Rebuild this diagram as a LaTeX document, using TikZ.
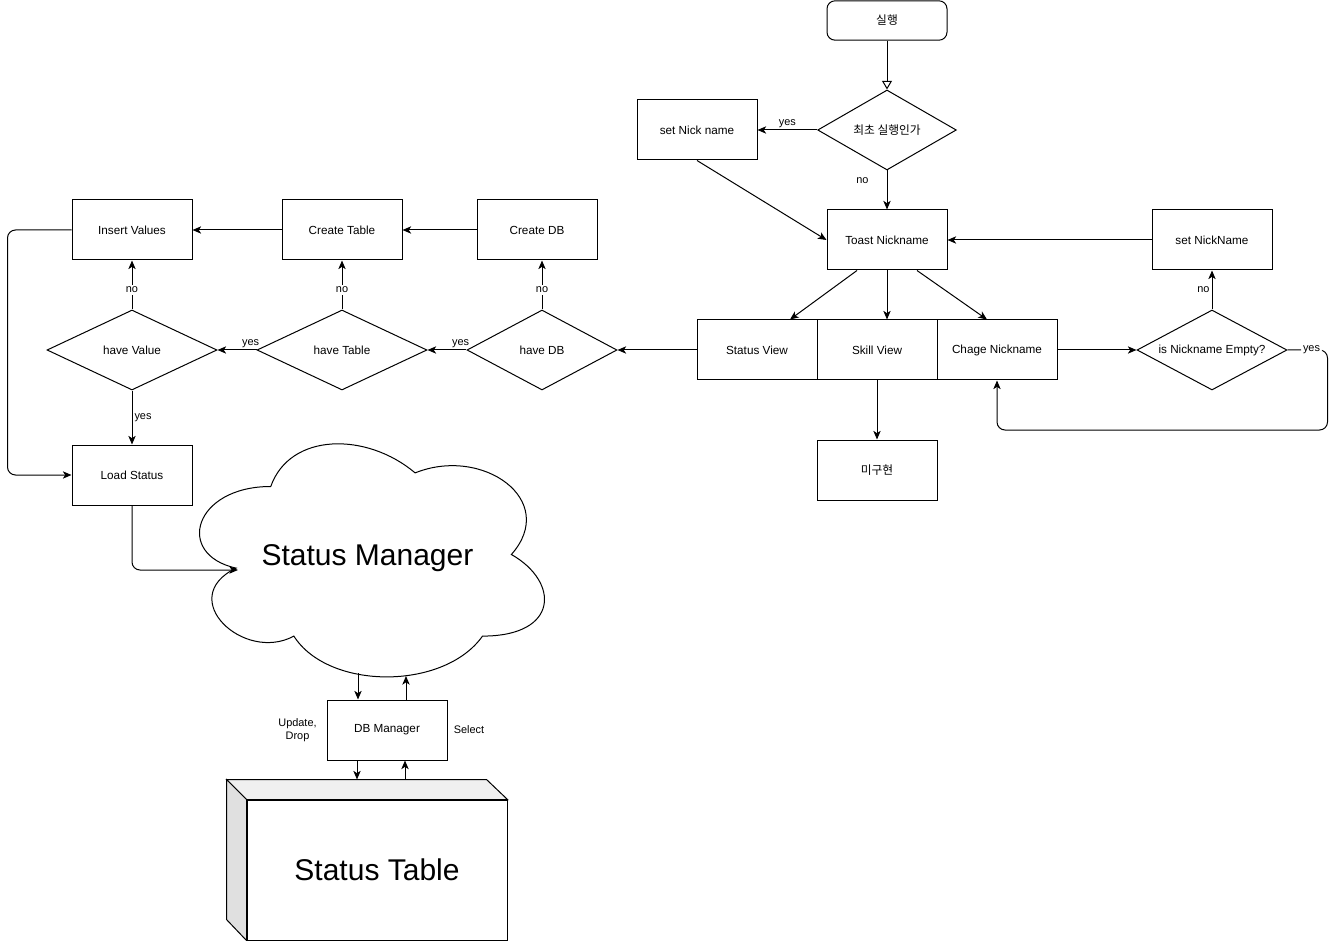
\documentclass[tikz,border=0pt]{standalone}
\usepackage{fontspec}
\setmainfont{Liberation Sans}
\newfontfamily\kr{Noto Sans CJK KR}
\usetikzlibrary{arrows.meta,shapes.geometric,calc}

\begin{document}
\begin{tikzpicture}[x=0.75pt,y=-0.75pt,line width=0.75pt,
    font=\fontsize{8.8}{10.5}\selectfont,
    box/.style={draw,minimum width=90pt,minimum height=45pt,inner sep=1pt},
    dec/.style={draw,diamond,aspect=1.9,minimum width=127.5pt,minimum height=60pt,inner sep=1pt},
    arr/.style={-{Stealth[length=6.5pt,width=5.5pt,inset=1.8pt]}},
    lbl/.style={font=\fontsize{8.2}{9.5}\selectfont,inner sep=1.5pt}]
    \useasboundingbox (0,0) rectangle (1336,941);

    % right part
    \node[box,rounded corners=6pt,minimum height=29.5pt] (run) at (887,20.5) {\kr 실행};
    \node[dec,aspect=1.75,minimum width=104pt] (first) at (887,130) {\kr 최초 실행인가};
    \node[box] (nick1) at (697,130) {set Nick name};
    \node[box] (toast) at (887,240) {Toast Nickname};
    \node[box] (setnick) at (1212,240) {set NickName};
    \node[box] (status) at (757,350) {Status View};
    \node[box] (skill) at (877,350) {Skill View};
    \node[box] (chage) at (997,350) {Chage Nickname};
    \node[box] (todo) at (877,470) {\kr 미구현};
    \node[dec,minimum width=112.5pt] (empty) at (1212,350) {is Nickname Empty?};

    \draw[-{Triangle[open,length=6.5pt,width=7.5pt]}] (run) -- (first);
    \draw[arr] (first) -- (nick1) node[lbl,midway,above] {yes};
    \draw[arr] (first) -- (toast) node[lbl,pos=.25,left=12pt] {no};
    \draw[arr] (nick1.south) -- (toast.west);
    \draw[arr] (setnick) -- (toast);
    \draw[arr] ([xshift=-22.5pt]toast.south) -- ([xshift=24.75pt]status.north);
    \draw[arr] (toast.south) -- (toast.south |- skill.north);
    \draw[arr] ([xshift=22.5pt]toast.south) -- ([xshift=-7.5pt]chage.north);
    \draw[arr] (skill) -- (todo);
    \draw[arr] (chage) -- (empty);
    \draw[arr] (empty) -- (setnick) node[lbl,midway,left] {no};
    \draw[arr,rounded corners=6pt] (empty.east) -- ++(40,0) node[lbl,pos=.6,fill=white] {yes}
        -- ++(0,80) -| (chage.south);

    % left part
    \node[dec,minimum width=112.5pt] (hdb) at (542,350) {have DB};
    \node[dec] (htable) at (342,350) {have Table};
    \node[dec] (hvalue) at (132,350) {have Value};
    \node[box] (cdb) at (537,230) {Create DB};
    \node[box] (ctable) at (342,230) {Create Table};
    \node[box] (ins) at (132,230) {Insert Values};
    \node[box] (load) at (132,475) {Load Status};

    \draw[arr] (status) -- (hdb);
    \draw[arr] (hdb) -- (htable) node[lbl,pos=.15,above] {yes};
    \draw[arr] (htable) -- (hvalue) node[lbl,pos=.15,above] {yes};
    \draw[arr] (hdb.north) -- (hdb.north |- cdb.south) node[lbl,pos=.4,fill=white] {no};
    \draw[arr] (htable) -- (ctable) node[lbl,pos=.4,fill=white] {no};
    \draw[arr] (hvalue) -- (ins) node[lbl,pos=.4,fill=white] {no};
    \draw[arr] (cdb) -- (ctable);
    \draw[arr] (ctable) -- (ins);
    \draw[arr] (hvalue) -- (load) node[lbl,midway,right] {yes};
    \draw[arr,rounded corners=6pt] (ins.west) -- ++(-64,0) |- (load.west);

    % manager and table
    \node[font=\fontsize{22.5}{27}\selectfont,text height=21pt,text depth=4.8pt,
      minimum width=288.75pt,minimum height=204pt] (mgr) at (367.5,555) {Status Manager};
    \begin{scope}[shift={(mgr.north west)},xscale=385,yscale=272]
      \draw (0.25,0.25) .. controls (0.05,0.25) and (0,0.5) .. (0.16,0.55)
        .. controls (0,0.66) and (0.18,0.9) .. (0.31,0.8)
        .. controls (0.4,1) and (0.7,1) .. (0.8,0.8)
        .. controls (1,0.8) and (1,0.6) .. (0.875,0.5)
        .. controls (1,0.3) and (0.8,0.1) .. (0.625,0.2)
        .. controls (0.5,0.05) and (0.3,0.05) .. (0.25,0.25) -- cycle;
    \end{scope}
    \coordinate (mgrin) at (238,570);
    \coordinate (mgrdown) at (358,673);
    \coordinate (mgrup) at (406,676);

    \node[box] (dbm) at (387,730) {DB Manager};
    \node[lbl,align=center] (upd) at (297.5,730) {Update,\\Drop};
    \node[lbl] (sel) at (469,730) {Select};

    \node[draw,font=\fontsize{22.5}{27}\selectfont,minimum width=195pt,minimum height=105pt] (tbl) at (377,870) {Status Table};
    \draw[fill=black!6] (tbl.north west) -- ++(-20,-20) -- ++(260,0) -- (tbl.north east) -- cycle;
    \draw[fill=black!12] (tbl.north west) -- ++(-20,-20) -- ++(0,140) -- (tbl.south west) -- cycle;
    \coordinate (tbltop) at ($(tbl.north)+(0,-20)$);

    \draw[arr,rounded corners=6pt] (load.south) |- (mgrin);
    \draw[arr] (mgrdown) -- (mgrdown |- dbm.north);
    \draw[arr] (mgrup |- dbm.north) -- (mgrup);
    \draw[arr] ([xshift=-22.5pt]dbm.south) -- ([xshift=-22.5pt]dbm.south |- tbltop);
    \draw[arr] ([xshift=13.5pt]dbm.south |- tbltop) -- ([xshift=13.5pt]dbm.south);
  \end{tikzpicture}
\end{document}
